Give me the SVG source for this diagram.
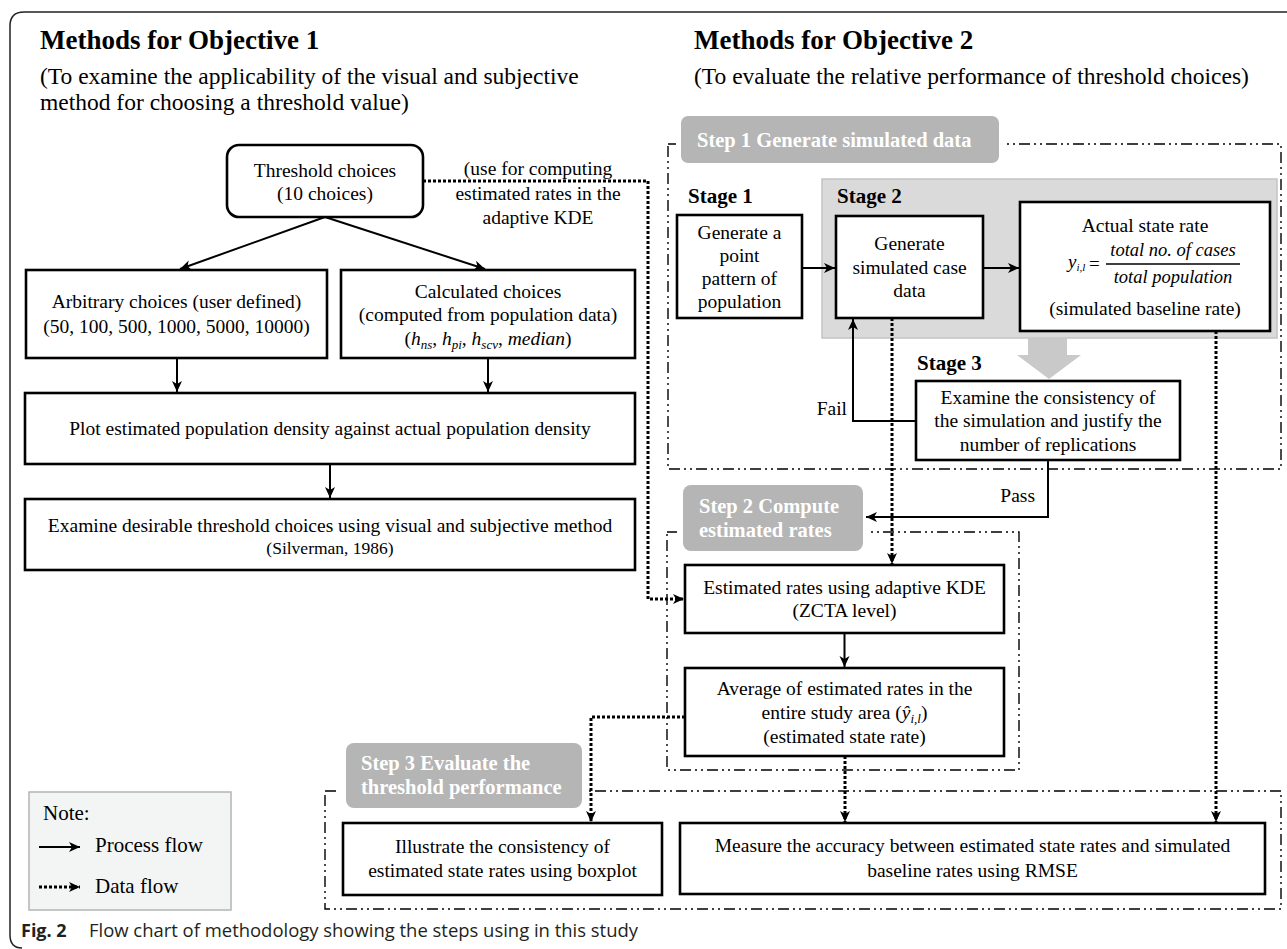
<svg xmlns="http://www.w3.org/2000/svg" width="1287" height="949" viewBox="0 0 1287 949">
<style>
text{font-family:"Liberation Serif","Times New Roman",serif;fill:#000}
.t{font-size:19.5px}
.c{text-anchor:middle}
.r{text-anchor:end}
.h{font-size:27px;font-weight:bold}
.sub{font-size:23.5px}
.stage{font-size:21px;font-weight:bold}
.lbl{font-size:20.5px;font-weight:bold;fill:#fff}
.it{font-style:italic}
.box{fill:#fff;stroke:#000;stroke-width:2.6}
.lab{fill:#b5b5b5}
.gap{fill:#fff}
.dd{fill:none;stroke:#000;stroke-width:1.4;stroke-dasharray:11 4 2 4 2 4}
.flow{fill:none;stroke:#000;stroke-width:2}
.data{fill:none;stroke:#000;stroke-width:3;stroke-dasharray:3 2}
</style>
<defs>
<marker id="ah" markerUnits="userSpaceOnUse" markerWidth="12" markerHeight="12" refX="11" refY="6" orient="auto">
<path d="M0,1 L11,6 L0,11 L3,6 z" fill="#000"/>
</marker>
</defs>

<rect width="1287" height="949" fill="#fff"/>
<path d="M1287,12 H24 Q10,12 10,26 V935 Q10,948 22,948" fill="none" stroke="#222" stroke-width="1.5"/>

<g id="headings">
<text class="h" x="40" y="49">Methods for Objective 1</text>
<text class="sub" x="40" y="84">(To examine the applicability of the visual and subjective</text>
<text class="sub" x="40" y="110">method for choosing a threshold value)</text>
<text class="h" x="694" y="49">Methods for Objective 2</text>
<text class="sub" x="694" y="84">(To evaluate the relative performance of threshold choices)</text>
</g>

<g id="regions">
<rect class="dd" x="668" y="144" width="613" height="325"/>
<rect class="dd" x="667" y="532" width="352" height="238"/>
<rect class="dd" x="325" y="791" width="956" height="118"/>
<rect class="gap" x="676" y="139" width="329" height="10"/>
<rect class="gap" x="677" y="527" width="190" height="10"/>
<rect class="gap" x="340" y="786" width="248" height="10"/>
<rect x="822" y="179" width="455" height="159" fill="#dadada" stroke="#c4c4c4" stroke-width="1.5"/>
<polygon points="1028,338 1067,338 1067,355 1081,355 1049,379 1017,355 1028,355" fill="#c9c9c9"/>
</g>

<g id="step1-label">
<rect class="lab" x="681" y="116" width="318" height="47" rx="7"/>
<text class="lbl" x="697" y="147">Step 1 Generate simulated data</text>
</g>
<g id="step2-label">
<rect class="lab" x="683" y="485" width="180" height="66" rx="8"/>
<text class="lbl" x="699" y="513">Step 2 Compute</text>
<text class="lbl" x="699" y="537">estimated rates</text>
</g>
<g id="step3-label">
<rect class="lab" x="346" y="743" width="236" height="65" rx="8"/>
<text class="lbl" x="361" y="770">Step 3 Evaluate the</text>
<text class="lbl" x="361" y="794">threshold performance</text>
</g>

<g id="threshold">
<rect class="box" x="227" y="145" width="196" height="72" rx="12"/>
<text class="t c" x="325" y="177">Threshold choices</text>
<text class="t c" x="325" y="200">(10 choices)</text>
</g>
<g id="threshold-note">
<text class="t c" x="538" y="175">(use for computing</text>
<text class="t c" x="538" y="200">estimated rates in the</text>
<text class="t c" x="538" y="224">adaptive KDE</text>
</g>
<g id="arbitrary">
<rect class="box" x="26" y="270" width="301" height="88"/>
<text class="t c" x="176.5" y="308">Arbitrary choices (user defined)</text>
<text class="t c" x="176.5" y="333">(50, 100, 500, 1000, 5000, 10000)</text>
</g>
<g id="calculated">
<rect class="box" x="341" y="270" width="294" height="88"/>
<text class="t c" x="488" y="298">Calculated choices</text>
<text class="t c" x="488" y="321">(computed from population data)</text>
<text class="t c" x="488" y="345">(<tspan class="it">h</tspan><tspan class="it" font-size="13" dy="4">ns</tspan><tspan dy="-4">, </tspan><tspan class="it">h</tspan><tspan class="it" font-size="13" dy="4">pi</tspan><tspan dy="-4">, </tspan><tspan class="it">h</tspan><tspan class="it" font-size="13" dy="4">scv</tspan><tspan dy="-4">, </tspan><tspan class="it">median</tspan>)</text>
</g>
<g id="plot">
<rect class="box" x="25" y="393" width="610" height="71"/>
<text class="t c" x="330" y="435">Plot estimated population density against actual population density</text>
</g>
<g id="examine">
<rect class="box" x="25" y="499" width="610" height="71"/>
<text class="t c" x="330" y="532">Examine desirable threshold choices using visual and subjective method</text>
<text class="c" x="330" y="554" font-size="17.5">(Silverman, 1986)</text>
</g>

<g id="stage1">
<text class="stage" x="688" y="203">Stage 1</text>
<rect class="box" x="677" y="215" width="125" height="103"/>
<text class="t c" x="739.5" y="239">Generate a</text>
<text class="t c" x="739.5" y="262">point</text>
<text class="t c" x="739.5" y="285">pattern of</text>
<text class="t c" x="739.5" y="308">population</text>
</g>
<g id="stage2">
<text class="stage" x="837" y="203">Stage 2</text>
<rect class="box" x="836" y="216" width="147" height="102"/>
<text class="t c" x="909.5" y="250">Generate</text>
<text class="t c" x="909.5" y="274">simulated case</text>
<text class="t c" x="909.5" y="297">data</text>
</g>
<g id="actual">
<rect class="box" x="1020" y="202" width="250" height="129"/>
<text class="t c" x="1145" y="232">Actual state rate</text>
<text x="1068" y="268" font-size="19"><tspan class="it">y</tspan><tspan class="it" font-size="11" dy="3">i,l</tspan></text>
<text x="1089" y="270" font-size="19">=</text>
<text class="c it" x="1173" y="256" font-size="18.5">total no. of cases</text>
<line x1="1106" y1="264" x2="1240" y2="264" stroke="#000" stroke-width="1.3"/>
<text class="c it" x="1173" y="283" font-size="18.5">total population</text>
<text class="t c" x="1145" y="315">(simulated baseline rate)</text>
</g>
<g id="stage3">
<text class="stage" x="917" y="370">Stage 3</text>
<rect class="box" x="916" y="381" width="264" height="79"/>
<text class="t c" x="1048" y="404">Examine the consistency of</text>
<text class="t c" x="1048" y="427">the simulation and justify the</text>
<text class="t c" x="1048" y="451">number of replications</text>
</g>
<g id="estimated">
<rect class="box" x="685" y="565" width="319" height="68"/>
<text class="t c" x="844.5" y="594">Estimated rates using adaptive KDE</text>
<text class="t c" x="844.5" y="617">(ZCTA level)</text>
</g>
<g id="average">
<rect class="box" x="685" y="668" width="319" height="88"/>
<text class="t c" x="844.5" y="695">Average of estimated rates in the</text>
<text class="t c" x="844.5" y="719">entire study area (<tspan class="it">ŷ</tspan><tspan class="it" font-size="13" dy="4">i,l</tspan><tspan dy="-4">)</tspan></text>
<text class="t c" x="844.5" y="743">(estimated state rate)</text>
</g>
<g id="illustrate">
<rect class="box" x="343" y="823" width="319" height="72"/>
<text class="t c" x="502.5" y="853">Illustrate the consistency of</text>
<text class="t c" x="502.5" y="877">estimated state rates using boxplot</text>
</g>
<g id="measure">
<rect class="box" x="680" y="823" width="585" height="71"/>
<text class="t c" x="972.5" y="852">Measure the accuracy between estimated state rates and simulated</text>
<text class="t c" x="972.5" y="877">baseline rates using RMSE</text>
</g>

<g id="connectors">
<path class="flow" d="M325,217 L180,269" marker-end="url(#ah)"/>
<path class="flow" d="M325,217 L485,269" marker-end="url(#ah)"/>
<path class="flow" d="M177,358 V392" marker-end="url(#ah)"/>
<path class="flow" d="M488,358 V392" marker-end="url(#ah)"/>
<path class="flow" d="M330,464 V498" marker-end="url(#ah)"/>
<path class="flow" d="M802,268 H835" marker-end="url(#ah)"/>
<path class="flow" d="M983,268 H1019" marker-end="url(#ah)"/>
<path class="flow" d="M916,421 H853 V319" marker-end="url(#ah)"/>
<text class="t r" x="847" y="415">Fail</text>
<path class="flow" d="M1048,460 V517 H866" marker-end="url(#ah)"/>
<text class="t r" x="1035" y="502">Pass</text>
<path class="flow" d="M844.5,633 V667" marker-end="url(#ah)"/>
<path class="data" d="M423,181 H648 V599 H684" marker-end="url(#ah)"/>
<path class="data" d="M892,318 V564" marker-end="url(#ah)"/>
<path class="data" d="M1216,331 V822" marker-end="url(#ah)"/>
<path class="data" d="M845,756 V822" marker-end="url(#ah)"/>
<path class="data" d="M685,717 H591 V822" marker-end="url(#ah)"/>
</g>

<g id="legend">
<rect x="29" y="792" width="202" height="118" fill="#f3f5f5" stroke="#b4b4b4" stroke-width="1.5"/>
<text x="43" y="820" font-size="21">Note:</text>
<path class="flow" d="M39,847 H80" marker-end="url(#ah)"/>
<text x="95" y="852" font-size="21">Process flow</text>
<path class="data" d="M39,887 H80" marker-end="url(#ah)"/>
<text x="95" y="893" font-size="21">Data flow</text>
</g>

<g id="caption">
<text x="21" y="937" font-size="18" style="font-family:'Open Sans','Liberation Sans',sans-serif;font-weight:bold;fill:#231f20">Fig. 2</text>
<text x="89" y="937" font-size="18" textLength="549" lengthAdjust="spacingAndGlyphs" style="font-family:'Open Sans','Liberation Sans',sans-serif;fill:#231f20">Flow chart of methodology showing the steps using in this study</text>
</g>
</svg>
